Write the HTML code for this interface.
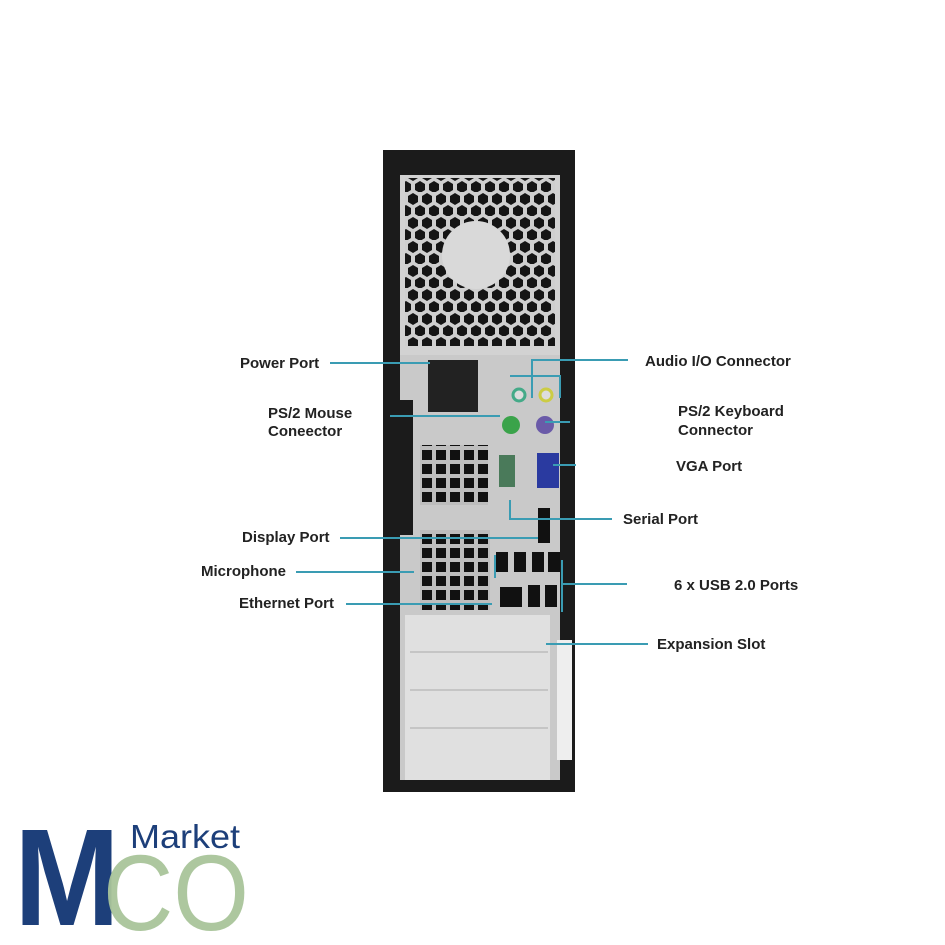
<!DOCTYPE html>
<html><head><style>
body{margin:0;background:#fff;}
svg{display:block;}
text{font-family:"Liberation Sans",sans-serif;}
.l{font-size:15px;font-weight:bold;fill:#222;}
.c{stroke:#3a9cb3;stroke-width:2;fill:none;}
</style></head><body>
<svg width="945" height="945" viewBox="0 0 945 945">
<defs>
<pattern id="hex" width="14" height="24" patternUnits="userSpaceOnUse">
<rect width="14" height="24" fill="#cfcfcf"/>
<polygon points="7,1 12,4 12,10 7,13 2,10 2,4" fill="#151515"/>
<polygon points="0,13 5,16 5,22 0,25 -5,22 -5,16" fill="#151515"/>
<polygon points="14,13 19,16 19,22 14,25 9,22 9,16" fill="#151515"/>
</pattern>
<pattern id="grid" width="14" height="14" patternUnits="userSpaceOnUse">
<rect width="14" height="14" fill="#bdbdbd"/><rect x="2" y="2" width="10" height="10" fill="#111"/>
</pattern>
</defs>
<rect x="383" y="150" width="192" height="642" fill="#1b1b1b"/>
<rect x="400" y="175" width="160" height="182" fill="#d2d2d2"/>
<rect x="405" y="178" width="150" height="168" fill="url(#hex)"/>
<circle cx="476" cy="255" r="34" fill="#d9d9d9"/>
<rect x="400" y="355" width="160" height="425" fill="#c9c9c9"/>
<rect x="383" y="400" width="30" height="135" fill="#1b1b1b"/>
<rect x="428" y="360" width="50" height="52" fill="#222"/>
<rect x="420" y="445" width="68" height="60" fill="url(#grid)"/>
<rect x="420" y="530" width="70" height="80" fill="url(#grid)"/>
<rect x="405" y="615" width="145" height="165" fill="#e0e0e0"/>
<g stroke="#aaa" stroke-width="1"><line x1="410" y1="652" x2="548" y2="652"/><line x1="410" y1="690" x2="548" y2="690"/><line x1="410" y1="728" x2="548" y2="728"/></g>
<rect x="557" y="640" width="15" height="120" fill="#eee"/>
<circle cx="511" cy="425" r="9" fill="#3aa34a"/>
<circle cx="545" cy="425" r="9" fill="#6a5aa8"/>
<circle cx="519" cy="395" r="6" fill="#ddd" stroke="#4a8" stroke-width="3"/>
<circle cx="546" cy="395" r="6" fill="#ddd" stroke="#cc4" stroke-width="3"/>
<rect x="537" y="453" width="22" height="35" fill="#2a3aa0"/>
<rect x="499" y="455" width="16" height="32" fill="#4a7a5a"/>
<rect x="538" y="508" width="12" height="35" fill="#111"/>
<g fill="#111"><rect x="496" y="552" width="12" height="20"/><rect x="514" y="552" width="12" height="20"/><rect x="532" y="552" width="12" height="20"/><rect x="548" y="552" width="12" height="20"/><rect x="528" y="585" width="12" height="22"/><rect x="545" y="585" width="12" height="22"/><rect x="500" y="587" width="22" height="20"/></g>
<path class="c" d="M330 363H430M390 416H500M340 538H538M296 572H414M346 604H492M628 360H532V398M510 376H560V398M570 422H545M576 465H553M612 519H510V500M627 584H562V560M562 584V612M495 555V578M648 644H546"/>
<g class="l">
<text x="240" y="368">Power Port</text>
<text x="268" y="418">PS/2 Mouse</text><text x="268" y="436">Coneector</text>
<text x="242" y="542">Display Port</text>
<text x="201" y="576">Microphone</text>
<text x="239" y="608">Ethernet Port</text>
<text x="645" y="366">Audio I/O Connector</text>
<text x="678" y="416">PS/2 Keyboard</text><text x="678" y="435">Connector</text>
<text x="676" y="471">VGA Port</text>
<text x="623" y="524">Serial Port</text>
<text x="674" y="590">6 x USB 2.0 Ports</text>
<text x="657" y="649">Expansion Slot</text>
</g>
<text x="14" y="925" font-size="138" font-weight="bold" fill="#1d3f7a" textLength="106" lengthAdjust="spacingAndGlyphs">M</text>
<text x="103" y="930" font-size="108" fill="#a9c49a" fill-opacity="0.95" textLength="146" lengthAdjust="spacingAndGlyphs">CO</text>
<text x="130" y="848" font-size="33" fill="#1d3f7a" textLength="110" lengthAdjust="spacingAndGlyphs">Market</text>
</svg>
</body></html>
